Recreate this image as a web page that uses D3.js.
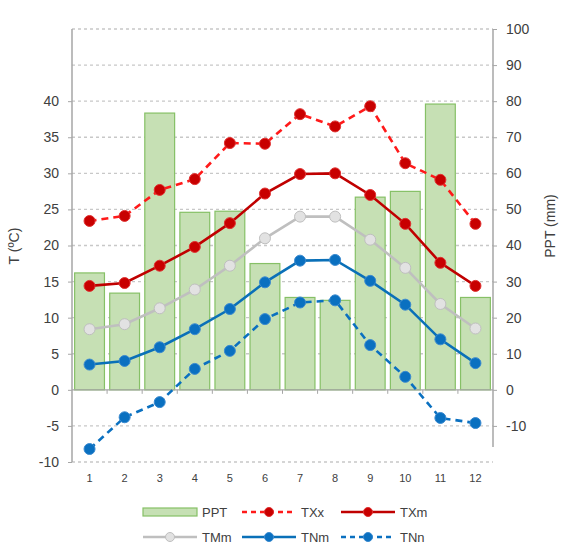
<!DOCTYPE html>
<html>
<head>
<meta charset="utf-8">
<script src="https://cdn.jsdelivr.net/npm/d3@7"></script>
<style>
  body { margin: 0; background: #fff; }
  svg text { font-family: "Liberation Sans", Arial, sans-serif; fill: #404040; }
</style>
</head>
<body>
<div id="display"></div>
<script>
// monthly values
var months = [1, 2, 3, 4, 5, 6, 7, 8, 9, 10, 11, 12];
var ppt = [32.4, 26.8, 76.7, 49.2, 49.5, 35.0, 25.6, 24.8, 53.4, 55.0, 79.2, 25.6];
var txx = [23.4, 24.1, 27.7, 29.2, 34.2, 34.1, 38.2, 36.5, 39.3, 31.4, 29.1, 23.0];
var txm = [14.4, 14.8, 17.2, 19.8, 23.1, 27.2, 29.9, 30.0, 27.0, 23.0, 17.6, 14.4];
var tmm = [8.4, 9.1, 11.3, 13.9, 17.2, 21.0, 24.0, 24.0, 20.8, 16.9, 11.9, 8.5];
var tnm = [3.5, 4.0, 5.9, 8.4, 11.2, 14.9, 17.9, 18.0, 15.1, 11.8, 7.0, 3.7];
var tnn = [-8.2, -3.8, -1.7, 2.9, 5.4, 9.8, 12.1, 12.4, 6.2, 1.8, -3.9, -4.6];
var tTicks = [-10, -5, 0, 5, 10, 15, 20, 25, 30, 35, 40];
var pTicks = [-10, 0, 10, 20, 30, 40, 50, 60, 70, 80, 90, 100];

var W = 561, H = 550;
// plot edges (window.top is reserved, so own names)
var pLeft = 72, pRight = 493, pTop = 29, pBottom = 462;

var svg = d3.select("#display").append("svg").attr("width", W).attr("height", H);

var x = d3.scaleBand().domain(months).range([pLeft, pRight]).paddingInner(0.15).paddingOuter(0.075);
var yT = d3.scaleLinear().domain([-10, 50]).range([pBottom, pTop]);
var yP = d3.scaleLinear().domain([-20, 100]).range([pBottom, pTop]);
var plain = function(d){ return String(d); }; // keep a hyphen minus like the original

// dashed gridlines every 5 degC (skip 0, that one is the x axis)
var gridVals = d3.range(-10, 51, 5).filter(function(d){ return d != 0; });
svg.append("g").selectAll("line")
  .data(gridVals).enter().append("line")
    .attr("x1", pLeft).attr("x2", pRight)
    .attr("y1", function(d){ return yT(d); })
    .attr("y2", function(d){ return yT(d); })
    .attr("stroke", "#c8c8c8")
    .attr("stroke-width", 1.3)
    .attr("stroke-dasharray", "3,3");

// precipitation bars
svg.append("g").selectAll("rect")
  .data(ppt).enter().append("rect")
    .attr("x", function(d, i){ return x(months[i]); })
    .attr("width", x.bandwidth())
    .attr("y", function(d){ return yP(d); })
    .attr("height", function(d){ return yP(0) - yP(d); })
    .attr("fill", "#c6e0b4")
    .attr("stroke", "#86c066")
    .attr("stroke-width", 1.2);

// x axis at 0 with ticks at month boundaries
svg.append("line")
  .attr("x1", pLeft).attr("x2", pRight)
  .attr("y1", yT(0)).attr("y2", yT(0))
  .attr("stroke", "#a6a6a6").attr("stroke-width", 1.3);
svg.append("g").selectAll("line")
  .data(d3.range(1, 12)).enter().append("line")
    .attr("x1", function(d){ return pLeft + d * (pRight - pLeft) / 12; })
    .attr("x2", function(d){ return pLeft + d * (pRight - pLeft) / 12; })
    .attr("y1", yT(0)).attr("y2", yT(0) + 4)
    .attr("stroke", "#a6a6a6").attr("stroke-width", 1);

// left axis
var axL = svg.append("g").attr("transform", "translate(" + pLeft + ",0)")
  .call(d3.axisLeft(yT).tickValues(tTicks).tickFormat(plain).tickSize(4).tickPadding(9));
axL.select(".domain").attr("d", "M0," + pTop + "V" + pBottom).attr("stroke", "#a6a6a6").attr("stroke-width", 1.5);
axL.selectAll(".tick line").attr("stroke", "#a6a6a6");
axL.selectAll(".tick text").style("font-size", "14px").attr("fill", "#404040");

// right axis
var axR = svg.append("g").attr("transform", "translate(" + pRight + ",0)")
  .call(d3.axisRight(yP).tickValues(pTicks).tickFormat(plain).tickSize(4).tickPadding(9));
axR.select(".domain").attr("d", "M0," + pTop + "V" + 447).attr("stroke", "#a6a6a6").attr("stroke-width", 1.5);
axR.selectAll(".tick line").attr("stroke", "#a6a6a6");
axR.selectAll(".tick text").style("font-size", "14px").attr("fill", "#404040");

// month labels
svg.append("g").selectAll("text")
  .data(months).enter().append("text")
    .attr("x", function(d){ return x(d) + x.bandwidth() / 2; })
    .attr("y", 482)
    .attr("text-anchor", "middle")
    .style("font-size", "11px")
    .text(function(d){ return d; });

// axis titles
svg.append("text")
  .attr("transform", "translate(19,246) rotate(-90)")
  .attr("text-anchor", "middle")
  .style("font-size", "14px")
  .text("T (ºC)");
svg.append("text")
  .attr("transform", "translate(555,226) rotate(-90)")
  .attr("text-anchor", "middle")
  .style("font-size", "14px")
  .text("PPT (mm)");

// temperature series
var series = [
  { name: "TXx", vals: txx, stroke: "#ff1a1a", dot: "#c80000", dotStroke: "#e03030", dash: "7,5" },
  { name: "TXm", vals: txm, stroke: "#c00000", dot: "#c80000", dotStroke: "#e03030", dash: null },
  { name: "TMm", vals: tmm, stroke: "#bfbfbf", dot: "#e2e2e2", dotStroke: "#bfbfbf", dash: null },
  { name: "TNm", vals: tnm, stroke: "#0a70b8", dot: "#0a70c0", dotStroke: "#3a8ad0", dash: null },
  { name: "TNn", vals: tnn, stroke: "#0a70c0", dot: "#0a70c0", dotStroke: "#3a8ad0", dash: "7,5" }
];

var line = d3.line()
  .x(function(d, i){ return x(months[i]) + x.bandwidth() / 2; })
  .y(function(d){ return yT(d); });

series.forEach(function(s){
  svg.append("path")
    .attr("d", line(s.vals))
    .attr("fill", "none")
    .attr("stroke", s.stroke)
    .attr("stroke-width", 2.6)
    .attr("stroke-dasharray", s.dash);
  svg.append("g").selectAll("circle")
    .data(s.vals).enter().append("circle")
      .attr("cx", function(d, i){ return x(months[i]) + x.bandwidth() / 2; })
      .attr("cy", function(d){ return yT(d); })
      .attr("r", 5.5)
      .attr("fill", s.dot)
      .attr("stroke", s.dotStroke)
      .attr("stroke-width", 1);
});

// legend
var legendItems = [
  { name: "PPT", col: 0, row: 0 },
  { name: "TXx", col: 1, row: 0, s: series[0] },
  { name: "TXm", col: 2, row: 0, s: series[1] },
  { name: "TMm", col: 0, row: 1, s: series[2] },
  { name: "TNm", col: 1, row: 1, s: series[3] },
  { name: "TNn", col: 2, row: 1, s: series[4] }
];
var colX = [143, 242, 341];
var rowY = [512, 537];
legendItems.forEach(function(it){
  var gx = colX[it.col], gy = rowY[it.row];
  var g = svg.append("g");
  if (!it.s) {
    g.append("rect").attr("x", gx).attr("y", gy - 4).attr("width", 54).attr("height", 8)
      .attr("fill", "#c6e0b4").attr("stroke", "#86c066").attr("stroke-width", 1.2);
  } else {
    g.append("line").attr("x1", gx).attr("x2", gx + 54).attr("y1", gy).attr("y2", gy)
      .attr("stroke", it.s.stroke).attr("stroke-width", 2.6).attr("stroke-dasharray", it.s.dash ? "5,4" : null);
    g.append("circle").attr("cx", gx + 27).attr("cy", gy).attr("r", 4.5)
      .attr("fill", it.s.dot).attr("stroke", it.s.dotStroke).attr("stroke-width", 1);
  }
  g.append("text").attr("x", gx + 59).attr("y", gy + 5)
    .style("font-size", "13px").text(it.name);
});
</script>
</body>
</html>
